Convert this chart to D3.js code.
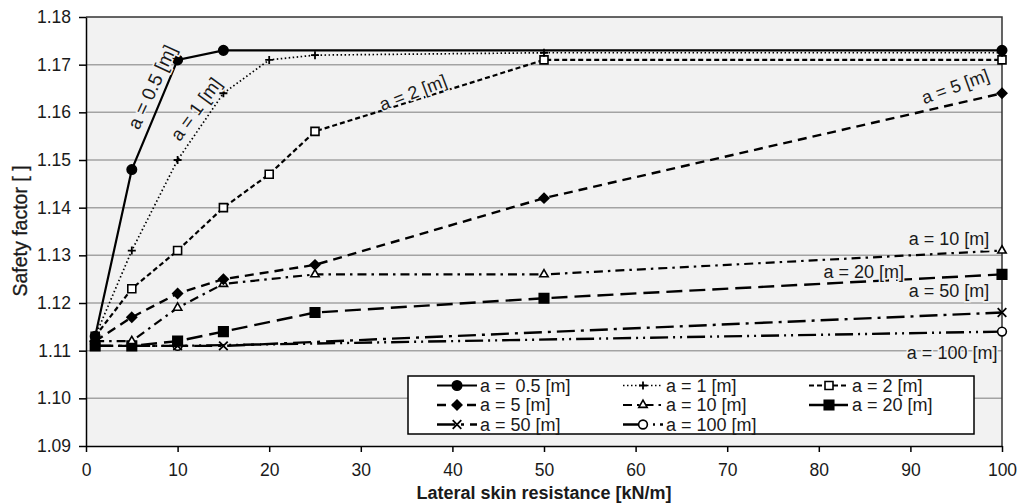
<!DOCTYPE html>
<html>
<head>
<meta charset="utf-8">
<script src="https://cdn.jsdelivr.net/npm/d3@7"></script>
<style>
  body { margin: 0; background: #fff; }
  text { font-family: Arial, 'Liberation Sans', sans-serif; fill: #1a1a1a; }
</style>
</head>
<body>
<div id="chart"></div>
<script>
// lateral skin resistance [kN/m]
let xValues = [1, 5, 10, 15, 20, 25, 50, 100]

// safety factor for each distance a, null = no point
let sf05 = [1.113, 1.148, 1.171, 1.173, null, null, null, 1.173]
let sf1 = [1.113, 1.131, 1.150, 1.164, 1.171, 1.172, 1.1725, 1.1725]
let sf2 = [1.113, 1.123, 1.131, 1.140, 1.147, 1.156, 1.171, 1.171]
let sf5 = [1.112, 1.117, 1.122, 1.125, null, 1.128, 1.142, 1.164]
let sf10 = [1.112, 1.112, 1.119, 1.124, null, 1.126, 1.126, 1.131]
let sf20 = [1.111, 1.111, 1.112, 1.114, null, 1.118, 1.121, 1.126]
let sf50 = [1.111, 1.111, 1.111, 1.111, null, null, null, 1.118]
let sf100 = [1.111, 1.111, 1.111, null, null, null, null, 1.114]

let legendNames = ['a =  0.5 [m]', 'a = 1 [m]', 'a = 2 [m]', 'a = 5 [m]', 'a = 10 [m]', 'a = 20 [m]', 'a = 50 [m]', 'a = 100 [m]']
let xTicks = [0, 10, 20, 30, 40, 50, 60, 70, 80, 90, 100]
let yTicks = [1.09, 1.10, 1.11, 1.12, 1.13, 1.14, 1.15, 1.16, 1.17, 1.18]

let width = 1019
let height = 504
let margin = { top: 17, left: 86, right: 17, bottom: 58 }

let svg = d3
  .select('#chart')
  .append('svg')
  .attr('width', width)
  .attr('height', height)

let xScale = d3
  .scaleLinear()
  .domain([0, 100])
  .range([margin.left, width - margin.right])

let yScale = d3
  .scaleLinear()
  .domain([1.09, 1.18])
  .range([height - margin.bottom, margin.top])

// line style + marker for every series
let styles = [
  { values: sf05, dash: null, w: 2.2, sym: d3.symbolCircle, size: 70, fill: '#000' },
  { values: sf1, dash: '1.5,2.5', w: 1.7, sym: 'plus', size: 0, fill: '#000' },
  { values: sf2, dash: '5,3', w: 2.2, sym: d3.symbolSquare, size: 64, fill: '#fff' },
  { values: sf5, dash: '9,6', w: 2.4, sym: d3.symbolDiamond2, size: 60, fill: '#000' },
  { values: sf10, dash: '9,5,2.5,5', w: 2.2, sym: d3.symbolTriangle2, size: 50, fill: '#fff' },
  { values: sf20, dash: '16,7', w: 2.4, sym: d3.symbolSquare, size: 90, fill: '#000' },
  { values: sf50, dash: '18,6,3,6', w: 2.4, sym: d3.symbolX, size: 50, fill: 'none' },
  { values: sf100, dash: '18,5,2,5,2,5', w: 2.4, sym: d3.symbolCircle, size: 60, fill: '#fff' }
]

let plot = svg.append('g')

plot
  .append('rect')
  .attr('x', xScale(0))
  .attr('y', yScale(1.18))
  .attr('width', xScale(100) - xScale(0))
  .attr('height', yScale(1.09) - yScale(1.18))
  .attr('fill', '#f2f2f2')

// grid
plot
  .selectAll('.grid')
  .data(yTicks.filter(d => d > 1.09 && d < 1.18))
  .enter()
  .append('line')
  .attr('class', 'grid')
  .attr('x1', xScale(0))
  .attr('x2', xScale(100))
  .attr('y1', d => yScale(d))
  .attr('y2', d => yScale(d))
  .attr('stroke', '#a3a3a3')
  .attr('stroke-width', 1.5)

// frame top and right
plot
  .append('path')
  .attr('d', `M${xScale(0)},${yScale(1.18)}H${xScale(100)}V${yScale(1.09)}`)
  .attr('fill', 'none')
  .attr('stroke', '#333')
  .attr('stroke-width', 1.5)

// axes
svg
  .append('g')
  .attr('transform', `translate(0,${yScale(1.09)})`)
  .call(d3.axisBottom(xScale).tickValues(xTicks).tickSize(6).tickSizeOuter(0).tickPadding(12))

svg
  .append('g')
  .attr('transform', `translate(${xScale(0)},0)`)
  .call(
    d3
      .axisLeft(yScale)
      .tickValues(yTicks)
      .tickFormat(d3.format('.2f'))
      .tickSize(7)
      .tickSizeOuter(0)
      .tickPadding(8)
  )

svg.selectAll('.domain').attr('stroke', '#000').attr('stroke-width', 1.5)
svg.selectAll('.tick line').attr('stroke', '#000').attr('stroke-width', 1.5)
svg
  .selectAll('.tick text')
  .attr('font-size', 17.5)
  .attr('font-family', 'Arial, Liberation Sans, sans-serif')
  .attr('fill', '#1a1a1a')

svg
  .append('text')
  .attr('x', (xScale(0) + xScale(100)) / 2)
  .attr('y', 499)
  .attr('text-anchor', 'middle')
  .attr('font-size', 18)
  .attr('font-weight', 'bold')
  .text('Lateral skin resistance [kN/m]')

svg
  .append('text')
  .attr('transform', `translate(27,231)rotate(-90)`)
  .attr('text-anchor', 'middle')
  .attr('font-size', 19.5)
  .attr('stroke', '#1a1a1a')
  .attr('stroke-width', 0.3)
  .text('Safety factor [ ]')

// series
let line = d3
  .line()
  .x(d => xScale(d.x))
  .y(d => yScale(d.y))

function markerPath(s) {
  if (s.sym === 'plus') {
    return 'M-4,0H4M0,-4V4'
  }
  return d3.symbol().type(s.sym).size(s.size)()
}

function drawMarker(g, s) {
  g.append('path')
    .attr('d', markerPath(s))
    .attr('fill', s.fill)
    .attr('stroke', '#000')
    .attr('stroke-width', s.sym === 'plus' || s.sym === d3.symbolX ? 1.8 : 1.6)
}

let seriesG = plot
  .selectAll('.series')
  .data(styles.slice().reverse())
  .enter()
  .append('g')
  .attr('class', 'series')

seriesG.each(function(s) {
  let g = d3.select(this)
  let points = xValues.map((x, i) => ({ x: x, y: s.values[i] })).filter(d => d.y !== null)

  g.append('path')
    .datum(points)
    .attr('d', line)
    .attr('fill', 'none')
    .attr('stroke', '#000')
    .attr('stroke-width', s.w)
    .attr('stroke-dasharray', s.dash)

  points.forEach(p => {
    let m = g.append('g').attr('transform', `translate(${xScale(p.x)},${yScale(p.y)})`)
    drawMarker(m, s)
  })
})

// in-plot labels
let labels = [
  { t: 'a = 0.5 [m]', x: 7.2, y: 1.1653, r: -65, anchor: 'middle', fs: 19 },
  { t: 'a = 1 [m]', x: 12.0, y: 1.1607, r: -54, anchor: 'middle', fs: 18.5 },
  { t: 'a = 2 [m]', x: 35.7, y: 1.1641, r: -21, anchor: 'middle', fs: 18 },
  { t: 'a = 5 [m]', x: 94.9, y: 1.1654, r: -20, anchor: 'middle', fs: 18 },
  { t: 'a = 10 [m]', x: 98.6, y: 1.1335, r: 0, anchor: 'end', fs: 18 },
  { t: 'a = 20 [m]', x: 89.3, y: 1.1266, r: 0, anchor: 'end', fs: 18 },
  { t: 'a = 50 [m]', x: 98.6, y: 1.1225, r: 0, anchor: 'end', fs: 18 },
  { t: 'a = 100 [m]', x: 99.5, y: 1.1095, r: 0, anchor: 'end', fs: 18 }
]

plot
  .selectAll('.lbl')
  .data(labels)
  .enter()
  .append('text')
  .attr('class', 'lbl')
  .attr('transform', d => `translate(${xScale(d.x)},${yScale(d.y)})rotate(${d.r})`)
  .attr('text-anchor', d => d.anchor)
  .attr('dominant-baseline', 'central')
  .attr('font-size', d => d.fs)
  .attr('stroke', '#f2f2f2')
  .attr('stroke-width', 3)
  .attr('paint-order', 'stroke')
  .text(d => d.t)

// legend
let legend = svg.append('g').attr('transform', 'translate(408,376)')

legend
  .append('rect')
  .attr('width', 566)
  .attr('height', 58)
  .attr('fill', '#fff')
  .attr('stroke', '#000')
  .attr('stroke-width', 1.5)

let colX = [29, 215, 401]

styles.forEach((s, i) => {
  let cx = colX[i % 3]
  let cy = 9.5 + Math.floor(i / 3) * 19.5
  let item = legend.append('g').attr('transform', `translate(${cx},${cy})`)

  item
    .append('line')
    .attr('x1', 0)
    .attr('x2', 40)
    .attr('stroke', '#000')
    .attr('stroke-width', s.w)
    .attr('stroke-dasharray', s.dash)

  let m = item.append('g').attr('transform', 'translate(20,0)')
  drawMarker(m, s)

  item
    .append('text')
    .attr('x', 43)
    .attr('dominant-baseline', 'central')
    .attr('font-size', 18)
    .style('white-space', 'pre')
    .text(legendNames[i])
})
</script>
</body>
</html>
